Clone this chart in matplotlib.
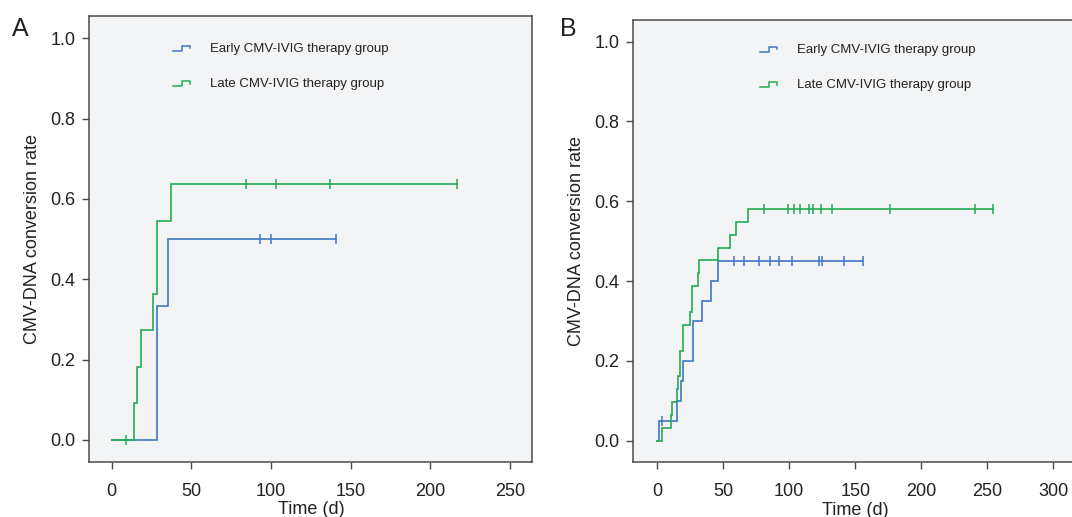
import matplotlib
matplotlib.use("Agg")
import matplotlib.pyplot as plt
import numpy as np
from matplotlib.legend_handler import HandlerBase
from matplotlib.lines import Line2D

plt.rcParams['font.family'] = ['Liberation Sans', 'DejaVu Sans']

# ---------------- data ----------------
groups = ["Early CMV-IVIG therapy group", "Late CMV-IVIG therapy group"]

# Panel A
A_early_t = [0, 28.2, 35.1]
A_early_rate = [0.0, 0.333, 0.500]
A_early_censor = [93, 100, 141]

A_late_t = [0, 13.9, 15.8, 18.1, 26.1, 28.2, 37.0]
A_late_rate = [0.0, 0.091, 0.182, 0.273, 0.364, 0.545, 0.636]
A_late_censor = [8.9, 84, 103, 137, 217]

# Panel B
B_early_t = [0, 1.0, 14.7, 17.7, 19.7, 26.8, 33.9, 40.9, 45.8]
B_early_rate = [0.0, 0.05, 0.10, 0.15, 0.20, 0.30, 0.35, 0.40, 0.45]
B_early_censor = [3.3, 57.9, 65.9, 77.0, 85.2, 92.0, 102.0, 122.3, 125.0, 141.2, 156.0]

B_late_t = [0, 3.3, 10.6, 11.4, 14.7, 15.5, 17.4, 19.7, 24.5, 26.5, 30.6, 31.6, 45.8, 55.1, 59.8, 68.9]
B_late_rate = [0.0, 0.032, 0.065, 0.097, 0.129, 0.161, 0.226, 0.290, 0.323, 0.387, 0.419,
               0.452, 0.484, 0.516, 0.548, 0.581]
B_late_censor = [80.8, 99, 103.8, 108.1, 115.2, 118, 124, 132.3, 176.5, 240.9, 254.3]

A_xticks = [0, 50, 100, 150, 200, 250]
B_xticks = [0, 50, 100, 150, 200, 250, 300]
yticks = [0.0, 0.2, 0.4, 0.6, 0.8, 1.0]

BLUE = '#3f78c2'
GREEN = '#22ad55'
AX_BG = '#f3f4f6'
SPINE = '#4a4a4a'


class StepHandler(HandlerBase):
    def create_artists(self, legend, orig_handle, xdescent, ydescent, width, height, fontsize, trans):
        x0, y0 = -xdescent, -ydescent
        xs = [x0, x0 + 0.5 * width, x0 + 0.5 * width, x0 + width, x0 + width]
        ys = [y0 + 0.15 * height, y0 + 0.15 * height, y0 + 0.7 * height, y0 + 0.7 * height, y0 + 0.4 * height]
        ln = Line2D(xs, ys, color=orig_handle.get_color(), lw=1.1, transform=trans)
        return [ln]


def km(ax, t, r, censor, color):
    end = max(max(censor), t[-1])
    xs = list(t) + [end]
    ys = list(r) + [r[-1]]
    ax.step(xs, ys, where='post', color=color, lw=1.2, solid_joinstyle='miter')
    idx = np.searchsorted(t, censor, side='right') - 1
    cy = [r[i] for i in idx]
    ax.plot(censor, cy, ls='none', marker='|', ms=7, mew=1.1, color=color)
    return Line2D([], [], color=color)


def style(ax, xticks, xlim, ylim):
    ax.set_facecolor(AX_BG)
    for s in ax.spines.values():
        s.set_color(SPINE)
        s.set_linewidth(1.1)
    ax.set_xlim(*xlim)
    ax.set_ylim(*ylim)
    ax.set_xticks(xticks)
    ax.set_yticks(yticks)
    ax.set_yticklabels([f"{v:.1f}" for v in yticks])
    ax.tick_params(direction='out', length=5, width=1.0, color=SPINE,
                   labelsize=13, labelcolor='#222222', pad=5)
    ax.tick_params(axis='x', pad=10)
    ax.set_xlabel("Time (d)", fontsize=13, color='#222222', labelpad=1)
    ax.set_ylabel("CMV-DNA conversion rate", fontsize=13, color='#222222', labelpad=6.5)


fig = plt.figure(figsize=(10.72, 5.17), dpi=100)
axA = fig.add_axes([0.0833, 0.1064, 0.4133, 0.8627])
axB = fig.add_axes([0.5908, 0.1058, 0.4139, 0.8555])

hA1 = km(axA, A_early_t, A_early_rate, A_early_censor, BLUE)
hA2 = km(axA, A_late_t, A_late_rate, A_late_censor, GREEN)
style(axA, A_xticks, (-14.1, 264), (-0.0548, 1.0555))

hB1 = km(axB, B_early_t, B_early_rate, B_early_censor, BLUE)
hB2 = km(axB, B_late_t, B_late_rate, B_late_censor, GREEN)
style(axB, B_xticks, (-18.2, 318.2), (-0.054, 1.054))

for ax, hs, anchor in [(axA, [hA1, hA2], (0.1895, 0.940)), (axB, [hB1, hB2], (0.2855, 0.946))]:
    ax.legend(hs, groups, loc='upper left', bbox_to_anchor=anchor, frameon=False,
              fontsize=9.5, handlelength=1.3, handletextpad=1.5, labelspacing=1.75,
              borderpad=0, borderaxespad=0,
              handler_map={Line2D: StepHandler()}, labelcolor='#222222')

fig.text(12 / 1072, 1 - 36 / 517, "A", fontsize=18, color='#222222')
fig.text(560 / 1072, 1 - 36 / 517, "B", fontsize=18, color='#222222')

fig.savefig("out.png", dpi=100, facecolor='white')
